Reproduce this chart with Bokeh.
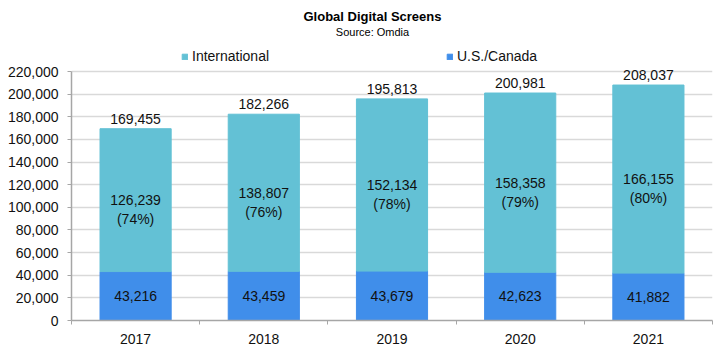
from bokeh.plotting import figure
from bokeh.models import (ColumnDataSource, Range1d, FixedTicker, NumeralTickFormatter,
                          Label, Legend, LegendItem)
from bokeh.core.properties import value
from bokeh.embed import file_html
from bokeh.resources import INLINE

# ---- data ----
years = ["2017", "2018", "2019", "2020", "2021"]
us_canada = [43216, 43459, 43679, 42623, 41882]
international = [126239, 138807, 152134, 158358, 166155]
intl_share = ["(74%)", "(76%)", "(78%)", "(79%)", "(80%)"]
y_ticks = [0, 20000, 40000, 60000, 80000, 100000, 120000, 140000, 160000, 180000, 200000, 220000]

FONT = "Liberation Sans"
INTL_COLOR = "#63c1d5"
US_COLOR = "#408eea"
AXIS_COLOR = "#a6a6a6"
TEXT_COLOR = "#111111"

# layout (pixels)
FRAME_BOTTOM = 320     # canvas y of the value 0
AXIS_PX = 249          # pixel height of the 0..220,000 axis
FRAME_LEFT = 71
FRAME_W = 641

xs = list(range(len(years)))
totals = [u + i for u, i in zip(us_canada, international)]
src = ColumnDataSource(dict(
    x=xs,
    us=us_canada,
    total=totals,
    us_mid=[u / 2 for u in us_canada],
    intl_mid=[u + i / 2 for u, i in zip(us_canada, international)],
    us_lbl=[f"{v:,}" for v in us_canada],
    intl_lbl=[f"{v:,}" for v in international],
    total_lbl=[f"{v:,}" for v in totals],
    share=intl_share,
))

y_top = y_ticks[-1] * FRAME_BOTTOM / AXIS_PX
p = figure(width=727, height=356, output_backend="svg", toolbar_location=None,
           x_range=Range1d(-0.5, len(years) - 0.5), y_range=Range1d(0, y_top),
           min_border_left=FRAME_LEFT, min_border_right=727 - FRAME_LEFT - FRAME_W,
           min_border_top=0, min_border_bottom=356 - FRAME_BOTTOM)
p.title.visible = False
p.outline_line_color = None
p.background_fill_color = "white"

r_us = p.vbar(x="x", bottom=0, top="us", width=0.555, source=src,
              fill_color=US_COLOR, line_color=US_COLOR)
r_intl = p.vbar(x="x", bottom="us", top="total", width=0.555, source=src,
                fill_color=INTL_COLOR, line_color=INTL_COLOR)

txt = dict(source=src, text_align="center", text_baseline="middle",
           text_font=value(FONT), text_font_size="14px", text_color=TEXT_COLOR)
p.text(x="x", y="us_mid", text="us_lbl", **txt)
p.text(x="x", y="intl_mid", text="intl_lbl", **txt)
p.text(x="x", y="intl_mid", text="share", y_offset=19, **txt)
p.text(x="x", y="total", text="total_lbl", y_offset=-10, **txt)

# x axis
p.xaxis.ticker = FixedTicker(ticks=xs, minor_ticks=[i - 0.5 for i in range(len(years) + 1)])
p.xaxis.major_label_overrides = {i: y for i, y in enumerate(years)}
p.xaxis.major_tick_out = 0
p.xaxis.major_tick_in = 0
p.xaxis.minor_tick_out = 4
p.xaxis.minor_tick_in = 0
p.xaxis.minor_tick_line_color = AXIS_COLOR
p.xaxis.axis_line_color = AXIS_COLOR
p.xaxis.axis_line_width = 1.5
p.xaxis.major_label_standoff = 9
p.xaxis.major_label_text_font = FONT
p.xaxis.major_label_text_font_size = "14px"
p.xaxis.major_label_text_color = TEXT_COLOR
p.xgrid.visible = False

# y axis
p.yaxis.ticker = FixedTicker(ticks=y_ticks)
p.yaxis.bounds = (0, y_ticks[-1])
p.yaxis.formatter = NumeralTickFormatter(format="0,0")
p.yaxis.major_tick_out = 4
p.yaxis.major_tick_in = 0
p.yaxis.minor_tick_out = 0
p.yaxis.major_tick_line_color = AXIS_COLOR
p.yaxis.axis_line_color = AXIS_COLOR
p.yaxis.axis_line_width = 1.5
p.yaxis.major_label_standoff = 9
p.yaxis.major_label_text_font = FONT
p.yaxis.major_label_text_font_size = "14px"
p.yaxis.major_label_text_color = TEXT_COLOR
p.ygrid.ticker = FixedTicker(ticks=y_ticks)
p.ygrid.grid_line_color = "#d9d9d9"
p.ygrid.grid_line_width = 1.5

# titles (screen units, measured from the frame's bottom-left corner)
p.add_layout(Label(x=301, y=FRAME_BOTTOM - 16, x_units="screen", y_units="screen",
                   text="Global Digital Screens", text_align="center", text_baseline="middle",
                   text_font=FONT, text_font_style="bold", text_font_size="13px",
                   text_color="#000000"))
p.add_layout(Label(x=301, y=FRAME_BOTTOM - 31, x_units="screen", y_units="screen",
                   text="Source: Omdia", text_align="center", text_baseline="middle",
                   text_font=FONT, text_font_size="11px", text_color="#000000"))

# legends
for r, name, lx in [(r_intl, "International", 110), (r_us, "U.S./Canada", 375)]:
    leg = Legend(items=[LegendItem(label=name, renderers=[r])], location=(lx, FRAME_BOTTOM - 64),
                 border_line_color=None, background_fill_alpha=0, padding=0, margin=0,
                 glyph_width=7, glyph_height=7, label_standoff=4,
                 label_text_font=FONT, label_text_font_size="14px",
                 label_text_color=TEXT_COLOR)
    p.add_layout(leg)

open("out.html", "w").write(file_html(p, INLINE))
